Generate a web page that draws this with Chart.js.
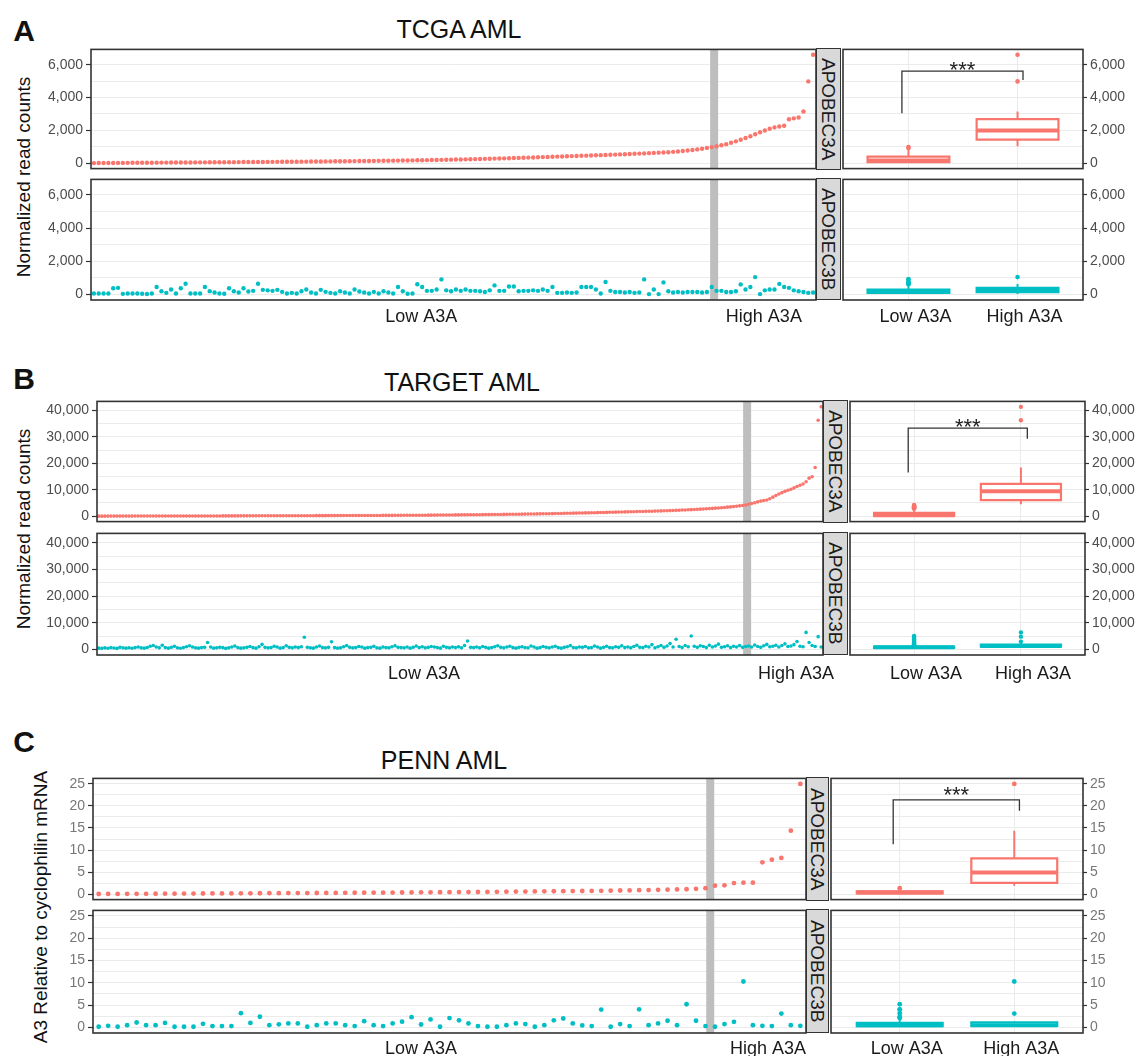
<!DOCTYPE html>
<html>
<head>
<meta charset="utf-8">
<script src="https://cdn.jsdelivr.net/npm/chart.js@4.4.1/dist/chart.umd.min.js"></script>
<style>
body { margin: 0; background: #fff; font-family: "Liberation Sans", Arial, Helvetica, sans-serif; }
#fig { position: relative; width: 1137px; height: 1056px; overflow: hidden; background: #fff; }
#fig canvas { position: absolute; }
.txt { position: absolute; white-space: nowrap; line-height: 1; color: #111; transform: translate(-50%, -50%); }
.rot { transform: translate(-50%, -50%) rotate(-90deg); }
.strip { position: absolute; background: #d9d9d9; border: 1.5px solid #333; box-sizing: border-box;
  display: flex; align-items: center; justify-content: center; }
.strip span { writing-mode: vertical-rl; font-size: 19px; color: #1a1a1a; line-height: 1; }
</style>
</head>
<body>
<div id="fig">
  <div class="txt" style="left:24px;top:31px;font-size:30px;font-weight:bold">A</div>
  <div class="txt" style="left:459px;top:29px;font-size:25px">TCGA AML</div>
  <div class="txt rot" style="left:23px;top:177px;font-size:19px">Normalized read counts</div>

  <div class="txt" style="left:24px;top:379px;font-size:30px;font-weight:bold">B</div>
  <div class="txt" style="left:462px;top:382px;font-size:25px">TARGET AML</div>
  <div class="txt rot" style="left:23px;top:529px;font-size:19px">Normalized read counts</div>

  <div class="txt" style="left:24px;top:742px;font-size:30px;font-weight:bold">C</div>
  <div class="txt" style="left:444px;top:760px;font-size:25px">PENN AML</div>
  <div class="txt rot" style="left:40px;top:907px;font-size:19px">A3 Relative to cyclophilin mRNA</div>
</div>
<script>
'use strict';

const red = '#F8766D';
const teal = '#00BFC4';
let groupLabels = ['Low A3A', 'High A3A'];
let geneLabels = ['APOBEC3A', 'APOBEC3B'];

// TCGA AML, samples sorted by APOBEC3A
let tcgaA3A = [5,8,10,12,14,16,18,20,22,24,
  26,28,30,32,34,36,38,40,42,44,
  46,48,50,52,54,56,58,60,62,64,
  66,68,70,72,74,76,78,80,82,84,
  86,88,90,93,96,99,102,105,108,111,
  114,117,120,123,126,129,132,135,138,141,
  145,149,153,157,161,165,170,175,180,185,
  190,196,202,208,214,220,227,234,241,248,
  255,263,271,279,287,295,304,313,322,331,
  340,350,360,370,380,390,400,410,420,430,
  440,450,460,470,480,490,500,512,524,536,
  548,560,572,584,596,610,625,640,655,670,
  690,715,740,770,800,840,880,930,980,
  1030,1090,1160,1240,1330,1430,1530,1640,1760,1880,
  1990,2100,2180,2230,2280,2680,2730,2780,3150,4980,6600];
let tcgaA3B = [60,60,60,60,380,400,40,60,60,60,
  50,30,60,450,200,100,300,60,380,650,
  60,60,60,450,200,120,60,50,380,200,
  120,380,180,220,650,280,250,220,280,160,
  60,100,60,200,300,120,60,280,160,100,
  60,200,120,60,300,180,120,60,160,60,
  200,120,60,450,200,50,60,615,455,220,
  220,300,910,250,200,300,220,300,220,220,
  200,150,250,550,220,220,480,480,200,220,
  220,250,220,300,220,455,100,100,120,100,
  120,455,455,455,300,60,750,220,150,150,
  120,150,100,120,910,25,300,25,730,200,
  120,150,120,150,150,150,120,150,450,220,
  220,150,150,200,610,300,455,1050,25,250,
  300,300,640,455,400,250,200,150,100,120];
let tcgaLowCount = 129;
let tcgaGrid = [0, 1000, 2000, 3000, 4000, 5000, 6000];
let tcgaTicks = [0, 2000, 4000, 6000];

// TARGET AML
let targetA3A = [0,2,4,6,8,10,12,14,16,18,
  20,22,24,26,28,30,32,34,36,38,
  40,42,44,46,48,50,52,54,56,58,
  60,62,64,66,68,70,72,74,76,78,
  80,83,86,89,92,95,98,101,104,107,
  110,113,116,119,122,125,128,131,134,137,
  140,143,146,149,152,155,158,161,164,167,
  170,174,178,182,186,190,194,198,202,206,
  210,214,218,222,226,230,234,238,242,246,
  250,255,260,265,270,275,280,285,290,295,
  300,308,316,324,332,340,348,356,364,372,
  380,390,400,410,420,430,440,450,460,470,
  480,492,504,516,528,540,552,564,576,588,
  600,615,630,645,660,675,690,705,720,735,
  750,770,790,810,830,850,870,890,910,930,
  950,975,1000,1025,1050,1075,1100,1125,1150,1175,
  1200,1225,1250,1275,1300,1330,1360,1390,1420,1450,
  1480,1510,1540,1570,1600,1630,1660,1690,1720,1750,
  1780,1810,1840,1870,1900,1940,1980,2020,2060,2100,
  2150,2200,2250,2300,2350,2400,2460,2520,2580,2640,
  2700,2780,2860,2940,3020,3100,3200,3300,3400,3500,
  3620,3750,3900,4050,4200,
  4500,4800,5100,5400,5700,5900,6100,6600,7200,7800,
  8400,8900,9400,9800,10200,10700,11200,11700,12200,13000,
  14400,14900,18400,36300,41400];
let targetA3B = [500,400,600,450,700,550,400,800,600,500,
  650,450,700,900,600,500,750,1200,1500,900,
  600,1600,700,500,800,1200,600,450,700,1000,
  1400,900,600,500,700,800,2600,900,500,600,
  800,700,400,600,900,1300,700,500,600,800,
  1100,700,500,1000,1900,800,600,700,1200,900,
  500,700,1400,800,600,900,700,1000,4600,800,
  600,500,900,1300,700,600,800,2900,700,500,
  600,1000,1500,800,600,700,1100,900,500,700,
  800,1200,600,500,900,700,600,1000,1400,800,
  700,600,900,500,800,1300,700,1000,600,800,
  1100,900,700,500,1200,800,600,900,700,1000,
  600,1500,3200,800,700,900,600,1100,800,500,
  700,1000,1400,800,600,900,1200,700,500,800,
  1000,700,600,1300,900,500,700,1100,800,600,
  900,1200,700,500,800,1000,1500,700,600,900,
  800,1100,600,700,1300,900,500,800,1200,700,
  600,1000,800,1400,700,900,600,1100,1600,800,
  700,1200,900,1800,600,1000,1500,800,1300,2200,
  900,3850,1100,700,1500,1000,5070,1200,800,1400,
  1100,700,1600,900,1300,2000,800,1000,1400,700,
  1200,900,1500,800,1100,
  1300,900,1700,1100,800,1400,1900,1000,1200,1600,
  900,1500,2100,1100,1300,1800,2950,1200,1000,6400,
  2600,1500,1100,4800,900];
let targetLowCount = 215;
let targetGrid = [0, 5000, 10000, 15000, 20000, 25000, 30000, 35000, 40000];
let targetTicks = [0, 10000, 20000, 30000, 40000];

// PENN AML
let pennA3A = [0.02,0.03,0.04,0.05,0.06,0.07,0.08,0.09,0.10,0.11,
  0.12,0.13,0.14,0.15,0.16,0.17,0.18,0.19,0.20,0.21,
  0.22,0.23,0.24,0.25,0.26,0.27,0.28,0.30,0.31,0.32,
  0.33,0.35,0.36,0.37,0.39,0.40,0.42,0.43,0.45,0.46,
  0.48,0.50,0.52,0.54,0.56,0.58,0.60,0.62,0.64,0.66,
  0.68,0.70,0.72,0.75,0.78,0.81,0.84,0.88,0.92,0.96,
  1.00,1.05,1.10,1.20,1.35,
  1.9,2.0,2.5,2.6,2.6,7.2,7.8,8.2,14.4,25];
let pennA3B = [0.15,0.37,0.15,0.5,1.1,0.5,0.5,1.0,0.15,0.15,
  0.15,0.8,0.3,0.3,0.3,3.2,1.0,2.4,0.5,0.7,
  0.9,0.9,0.15,0.5,0.9,0.9,0.5,0.3,1.4,0.5,
  0.3,0.9,1.3,2.3,0.66,1.8,0.15,2.1,1.6,0.9,
  0.3,0.15,0.15,0.5,0.9,0.75,0.15,0.5,1.6,2.0,
  0.9,0.45,0.3,4.0,0.15,0.75,0.3,4.05,0.5,0.9,
  1.5,0.5,5.2,1.5,0.3,
  0.15,0.75,1.25,10.3,0.5,0.37,0.3,3.1,0.5,0.37];
let pennLowCount = 65;
let pennGrid = [0, 2.5, 5, 7.5, 10, 12.5, 15, 17.5, 20, 22.5, 25];
let pennTicks = [0, 5, 10, 15, 20, 25];

// layout of the three panels
let panels = [
  {a: tcgaA3A, b: tcgaA3B, lowCount: tcgaLowCount, grid: tcgaGrid, ticks: tcgaTicks, range: [-330, 6930],
   top: [48, 170], bot: [178, 300], left: 91, stripL: 816, boxL: 841, boxR: 1083, axisW: 50, rAxisW: 54,
   radius: 2.2, outR: 2.3, labelPos: [68.8, 139.8], labelPad: 6, labelOffset: 7, tickColor: '#4d4d4d',
   bracket: [0.94, 2.05, 3044, 5603, 5067], starGap: 7},
  {a: targetA3A, b: targetA3B, lowCount: targetLowCount, grid: targetGrid, ticks: targetTicks, range: [-2070, 43470],
   top: [400, 523], bot: [532, 655], left: 97, stripL: 823, boxL: 848, boxR: 1085, axisW: 56, rAxisW: 52,
   radius: 1.8, outR: 2.2, labelPos: [108.6, 231.7], labelPad: 8, labelOffset: 12, tickColor: '#4d4d4d',
   bracket: [0.945, 2.06, 16553, 33363, 29290], starGap: 7},
  {a: pennA3A, b: pennA3B, lowCount: pennLowCount, grid: pennGrid, ticks: pennTicks, range: [-1.25, 26.25],
   top: [777, 901], bot: [909, 1033], left: 93, stripL: 806, boxL: 829, boxR: 1083, axisW: 50, rAxisW: 54,
   radius: 2.4, outR: 2.4, labelPos: [35.0, 71.6], labelPad: 5, labelOffset: 7, tickColor: '#777',
   bracket: [0.943, 2.045, 11.32, 21.37, 18.93], starGap: 10}
];

const figure = document.getElementById('fig');
Chart.defaults.font.family = '"Liberation Sans", Arial, Helvetica, sans-serif';
const fmt = v => v.toLocaleString('en-US');

let frame = {
  id: 'frame',
  afterDraw(chart) {
    let a = chart.chartArea, c = chart.ctx;
    c.save();
    c.strokeStyle = '#333';
    c.lineWidth = 1.6;
    c.strokeRect(a.left, a.top, a.right - a.left, a.bottom - a.top);
    c.restore();
  }
};

let grayBar = {
  id: 'grayBar',
  beforeDatasetsDraw(chart, args, opts) {
    if (opts.at == null) return;
    let a = chart.chartArea, c = chart.ctx;
    let x = chart.scales.x.getPixelForValue(opts.at);
    c.save();
    c.fillStyle = '#bebebe';
    c.fillRect(x - 4, a.top, 8, a.bottom - a.top);
    c.restore();
  }
};

let stars = {
  id: 'stars',
  afterDatasetsDraw(chart, args, opts) {
    if (opts.y == null) return;
    let c = chart.ctx;
    let x = (chart.scales.x.getPixelForValue(opts.x1) + chart.scales.x.getPixelForValue(opts.x2)) / 2;
    let y = chart.scales.y.getPixelForValue(opts.y) - opts.gap;
    c.save();
    c.fillStyle = '#222';
    c.font = '22px "Liberation Sans", Arial, sans-serif';
    c.textAlign = 'center';
    c.textBaseline = 'alphabetic';
    c.fillText('***', x, y + 12.5);
    c.restore();
  }
};

function quantile(s, p) {
  let h = (s.length - 1) * p;
  let lo = Math.floor(h);
  let hi = Math.min(lo + 1, s.length - 1);
  return s[lo] + (h - lo) * (s[hi] - s[lo]);
}

function boxStats(vals) {
  let s = vals.slice().sort((a, b) => a - b);
  let q1 = quantile(s, 0.25), med = quantile(s, 0.5), q3 = quantile(s, 0.75);
  let lim1 = q1 - 1.5 * (q3 - q1), lim2 = q3 + 1.5 * (q3 - q1);
  let inside = s.filter(v => v >= lim1 && v <= lim2);
  return {q1, med, q3, lo: inside[0], hi: inside[inside.length - 1],
    out: s.filter(v => v < lim1 || v > lim2)};
}

function line(color, w) {
  return {showLine: true, borderColor: color, borderWidth: w, pointRadius: 0, tension: 0, fill: false,
    borderCapStyle: 'butt', borderJoinStyle: 'miter'};
}

function boxDatasets(st, g, color, r) {
  let w = 0.375;
  return [
    Object.assign({data: [{x: g - w, y: st.med}, {x: g + w, y: st.med}]}, line(color, 4)),
    Object.assign({data: [{x: g, y: st.lo}, {x: g, y: st.q1}]}, line(color, 2)),
    Object.assign({data: [{x: g, y: st.q3}, {x: g, y: st.hi}]}, line(color, 2)),
    Object.assign({data: [{x: g - w, y: st.q1}, {x: g + w, y: st.q1}, {x: g + w, y: st.q3},
      {x: g - w, y: st.q3}, {x: g - w, y: st.q1}]}, line(color, 2.2),
      {fill: 'shape', backgroundColor: '#fff', borderCapStyle: 'square'}),
    {data: st.out.map(v => ({x: g, y: v})), showLine: false, pointRadius: r,
      pointBackgroundColor: color, pointBorderWidth: 0}
  ];
}

function yScale(p, pos) {
  return {
    position: pos, min: p.range[0], max: p.range[1],
    afterBuildTicks: s => { s.ticks = p.grid.map(v => ({value: v})); },
    afterFit: s => { s.width = pos === 'left' ? p.axisW : p.rAxisW; },
    grid: {color: '#ebebeb', lineWidth: 1, tickLength: pos === 'left' ? 5 : 4, tickWidth: 1.2,
      tickColor: c => p.ticks.includes(c.tick.value) ? '#333' : 'rgba(0,0,0,0)'},
    border: {display: false},
    ticks: {autoSkip: false, padding: 3, color: p.tickColor, font: {size: 14},
      callback: v => p.ticks.includes(v) ? fmt(v) : ''}
  };
}

function newCanvas(left, top, w, h) {
  let cv = document.createElement('canvas');
  cv.width = w;
  cv.height = h;
  cv.style.left = left + 'px';
  cv.style.top = top + 'px';
  figure.appendChild(cv);
  return cv;
}

function noPad(s, h) {
  s.height = h;
  s.paddingLeft = 0;
  s.paddingRight = 0;
}

function makeScatter(p, values, color, row, showX) {
  let xh = showX ? 32 : 0;
  let extra = 40;
  let cv = newCanvas(p.left - p.axisW, row[0] - 10, p.axisW + (p.stripL - p.left) + extra,
    10 + (row[1] - row[0]) + (showX ? xh : 10));
  new Chart(cv, {
    type: 'scatter',
    data: {datasets: [{data: values.map((v, i) => ({x: i + 1, y: v})), pointRadius: p.radius,
      pointBackgroundColor: color, pointBorderWidth: 0}]},
    options: {
      responsive: false, animation: false, events: [],
      layout: {padding: {top: 10, bottom: showX ? 0 : 10, left: 0, right: extra}},
      plugins: {legend: {display: false}, tooltip: {enabled: false}, grayBar: {at: p.lowCount + 0.5}},
      scales: {
        x: {type: 'linear', min: 0.4, max: values.length + 0.6, display: showX,
          afterBuildTicks: s => { s.ticks = p.labelPos.map(v => ({value: v})); },
          afterFit: s => noPad(s, xh),
          grid: {display: false, drawTicks: false}, border: {display: false},
          ticks: {autoSkip: false, maxRotation: 0, padding: p.labelPad, color: '#1a1a1a', font: {size: 18},
            callback: (v, i) => groupLabels[i]}},
        y: yScale(p, 'left')
      }
    },
    plugins: [grayBar, frame]
  });
}

function makeBox(p, values, color, row, showX, withBracket) {
  let xh = showX ? 32 : 0;
  let cv = newCanvas(p.boxL - 2, row[0] - 10, 2 + (p.boxR - p.boxL) + p.rAxisW,
    10 + (row[1] - row[0]) + (showX ? xh : 10));
  let low = boxStats(values.slice(0, p.lowCount));
  let high = boxStats(values.slice(p.lowCount));
  let sets = boxDatasets(low, 1, color, p.outR).concat(boxDatasets(high, 2, color, p.outR));
  let b = p.bracket;
  if (withBracket) {
    sets.unshift(Object.assign({data: [{x: b[0], y: b[2]}, {x: b[0], y: b[3]}, {x: b[1], y: b[3]},
      {x: b[1], y: b[4]}]}, line('#333', 1.3)));
  }
  new Chart(cv, {
    type: 'scatter',
    data: {datasets: sets},
    options: {
      responsive: false, animation: false, events: [],
      layout: {padding: {top: 10, bottom: showX ? 0 : 10, left: 2, right: 0}},
      plugins: {legend: {display: false}, tooltip: {enabled: false},
        stars: withBracket ? {x1: b[0], x2: b[1], y: b[3], gap: p.starGap} : {}},
      scales: {
        x: {type: 'linear', min: 0.4, max: 2.6,
          afterBuildTicks: s => { s.ticks = [{value: 1}, {value: 2}]; },
          afterFit: s => noPad(s, xh),
          grid: {color: '#ebebeb', lineWidth: 1, drawTicks: false}, border: {display: false},
          ticks: {display: showX, autoSkip: false, maxRotation: 0, padding: p.labelPad,
            labelOffset: p.labelOffset, color: '#1a1a1a', font: {size: 18},
            callback: (v, i) => groupLabels[i]}},
        y: yScale(p, 'right')
      }
    },
    plugins: [stars, frame]
  });
}

function addStrip(left, right, row, text) {
  let d = document.createElement('div');
  d.className = 'strip';
  d.style.left = left + 'px';
  d.style.top = row[0] + 'px';
  d.style.width = (right - left) + 'px';
  d.style.height = (row[1] - row[0]) + 'px';
  d.innerHTML = '<span>' + text + '</span>';
  figure.appendChild(d);
}

for (let p of panels) {
  makeScatter(p, p.a, red, p.top, false);
  makeScatter(p, p.b, teal, p.bot, true);
  makeBox(p, p.a, red, p.top, false, true);
  makeBox(p, p.b, teal, p.bot, true, false);
  addStrip(p.stripL, p.boxL, p.top, geneLabels[0]);
  addStrip(p.stripL, p.boxL, p.bot, geneLabels[1]);
}
</script>
</body>
</html>
